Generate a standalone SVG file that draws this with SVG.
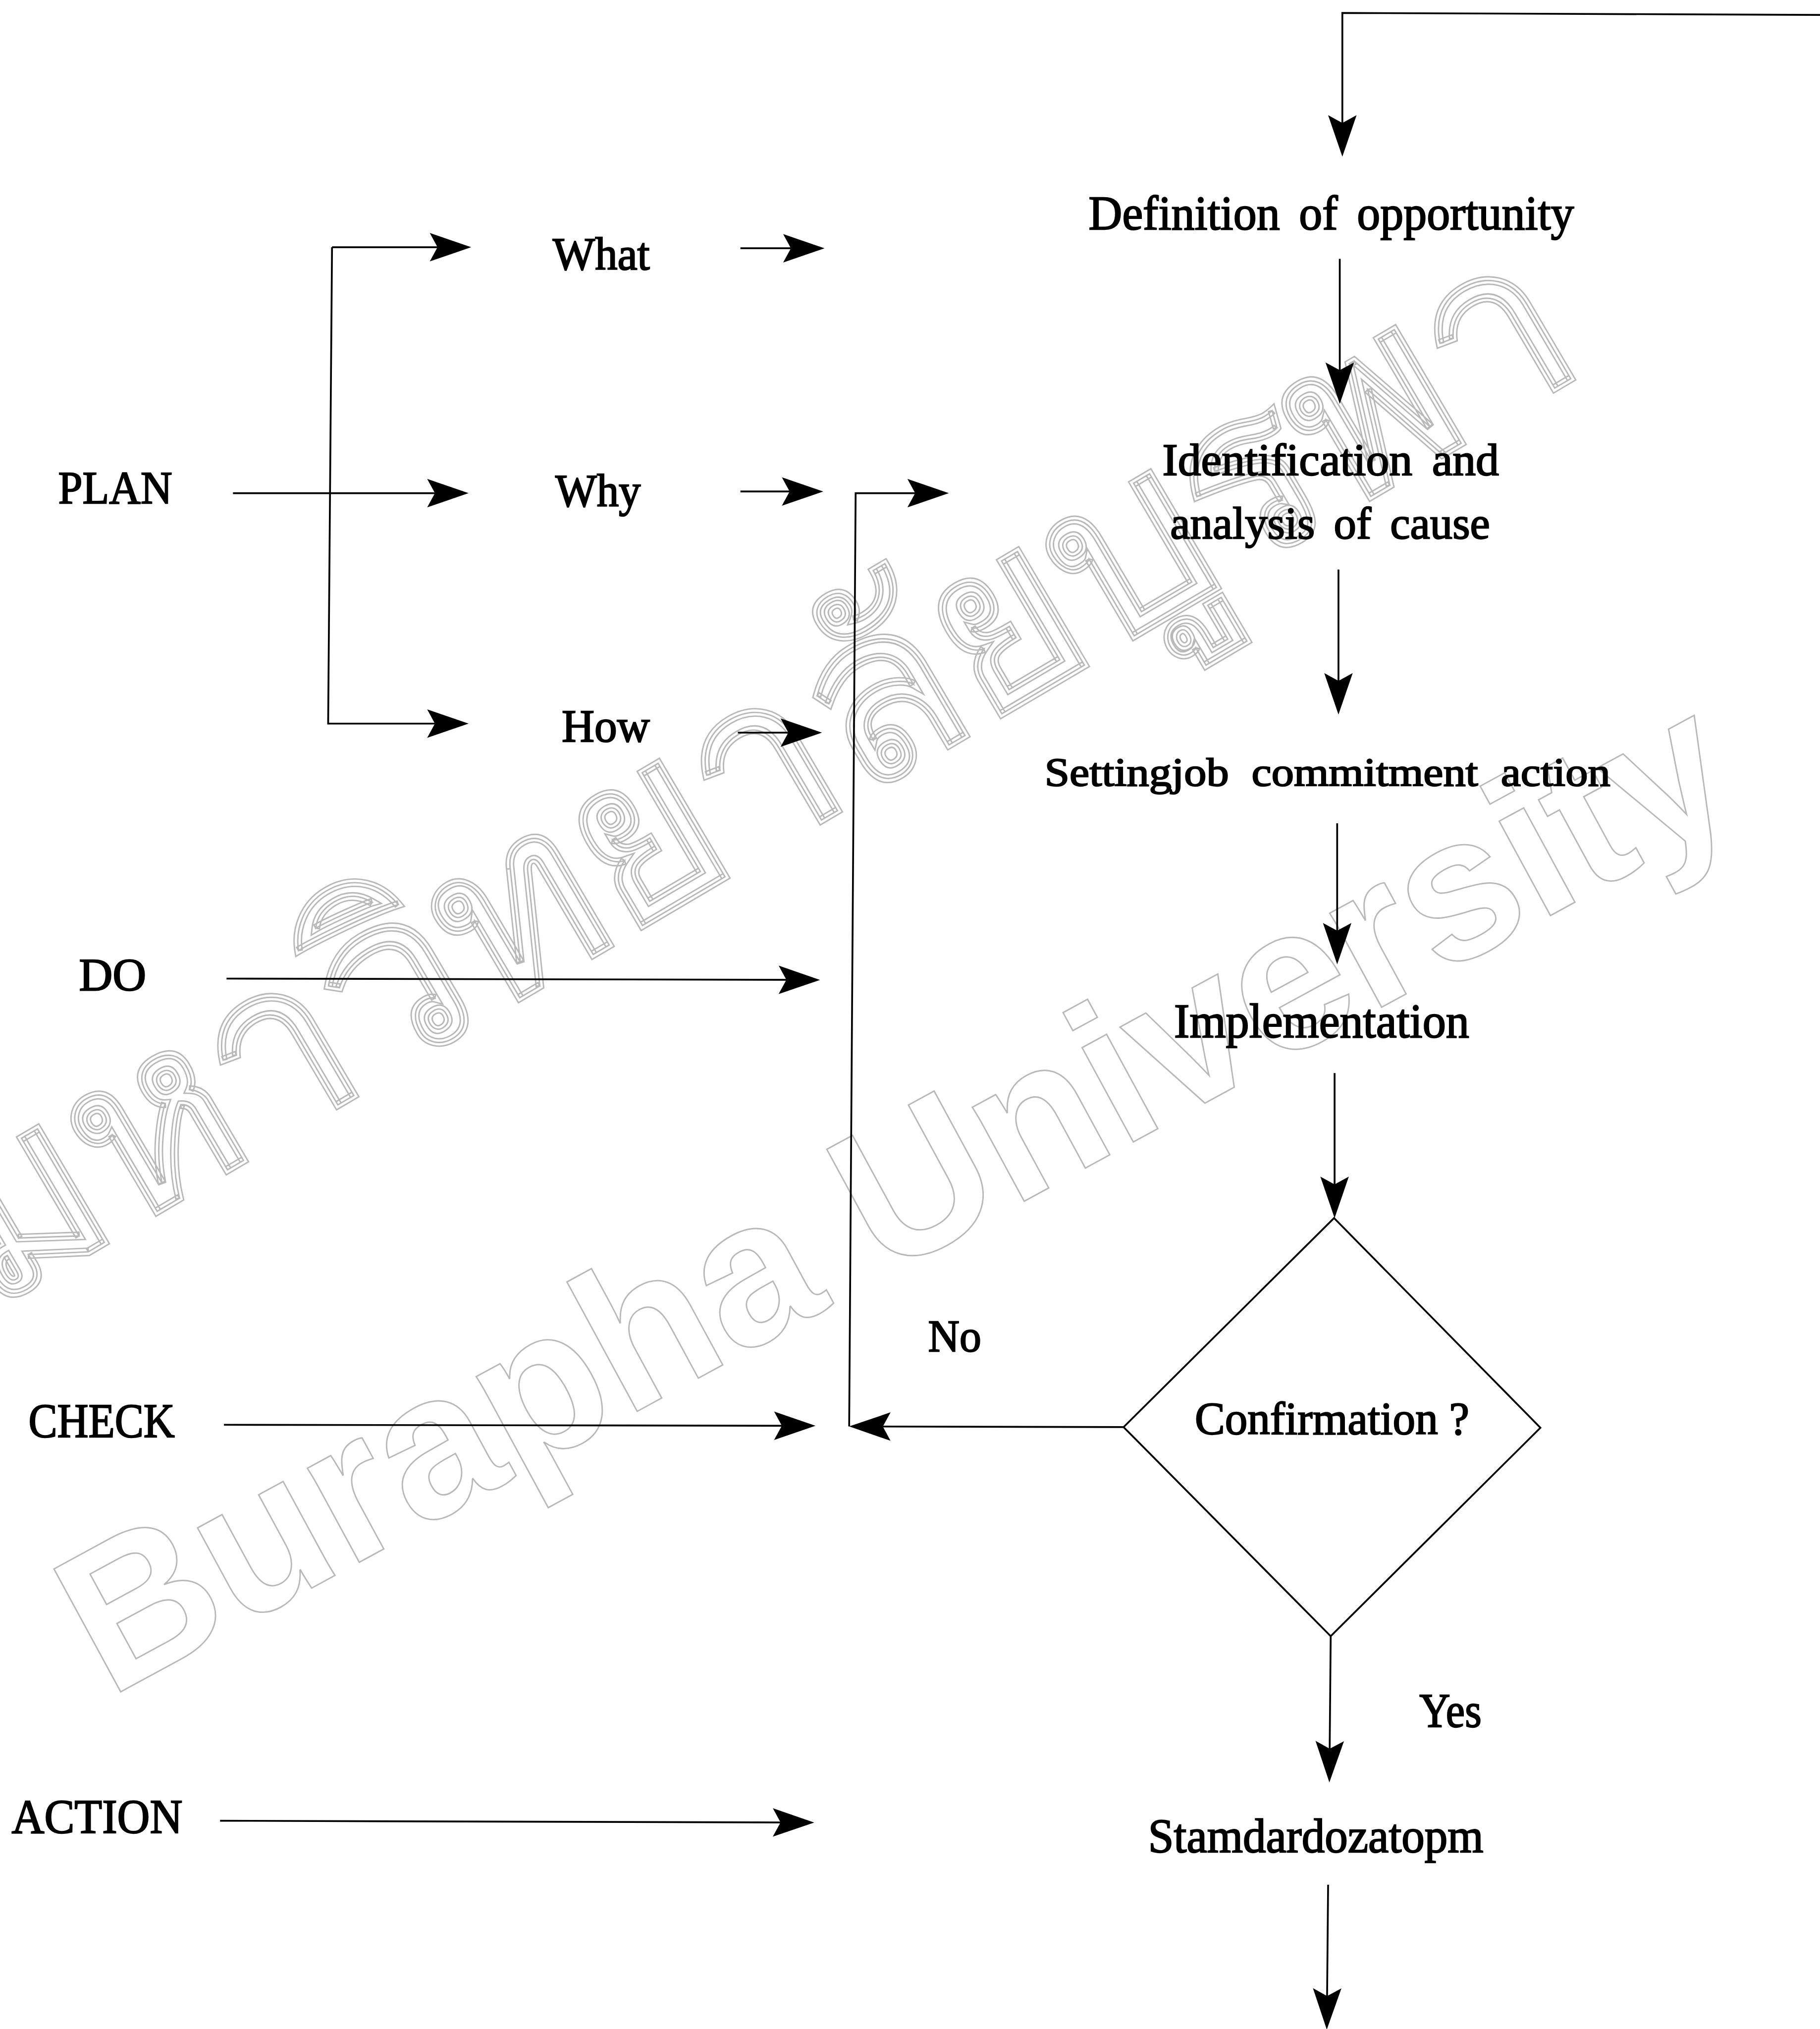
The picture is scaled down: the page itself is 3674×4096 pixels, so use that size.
<svg xmlns="http://www.w3.org/2000/svg" width="3674" height="4096" viewBox="0 0 3674 4096">
<defs>
<marker id="ah" markerUnits="userSpaceOnUse" markerWidth="40" markerHeight="30" viewBox="-36 -15 40 30" refX="-3" refY="0" orient="auto" overflow="visible">
<path d="M0,0 L-32,-11 L-26,0 L-32,11 Z" fill="#000"/>
</marker>
</defs>
<style>
.t{font-family:"Liberation Serif","Times New Roman",serif;fill:#000;stroke:#000;stroke-width:0.9}
.c{fill:none;stroke:#000;stroke-width:1.4}
.a{marker-end:url(#ah)}
.wm{font-family:"Liberation Sans",Arial,sans-serif;font-weight:bold;fill:none;stroke:#b8b8b8;stroke-width:1.1}
</style>
<rect width="3674" height="4096" fill="#fff"/>
<g transform="scale(2.6131)">
<g id="watermark">
<text class="wm" font-size="157" transform="translate(84,1312) rotate(-28.5)">Burapha University</text>
<text class="wm" font-size="183" transform="translate(-8,1012) rotate(-30.5)">มหาวิทยาลัยบูรพา</text>
</g>
<g id="connectors">
<path class="c a" d="M1406,11.5 L1037,10 L1037,118"/>
<path class="c a" d="M1035,200 L1035,309"/>
<path class="c a" d="M1034,440 L1034,549"/>
<path class="c a" d="M1033,636 L1033,742"/>
<path class="c a" d="M1031,829 L1031,938"/>
<path class="c a" d="M1028,1264 L1027,1374"/>
<path class="c a" d="M1026,1456 L1025,1565"/>
<path class="c a" d="M868,1102.5 L659,1102"/>
<path class="c a" d="M656,1102 L661,381 L730,381"/>
<path class="c a" d="M180,381 L359,381"/>
<path class="c a" d="M256.5,191 L361,191"/>
<path class="c a" d="M256.5,191 L253.5,559 L359,559"/>
<path class="c a" d="M572,191.8 L634,191.8"/>
<path class="c a" d="M572,379.7 L633,379.7"/>
<path class="c a" d="M570,566 L632,566"/>
<path class="c a" d="M175,756 L630.5,757"/>
<path class="c a" d="M173,1100.7 L627,1101.5"/>
<path class="c a" d="M170,1406.6 L626,1408"/>
</g>
<g id="plan"><text class="t" x="45" y="389" font-size="36" textLength="88" lengthAdjust="spacingAndGlyphs">PLAN</text></g>
<g id="what"><text class="t" x="427" y="208" font-size="36" textLength="75" lengthAdjust="spacingAndGlyphs">What</text></g>
<g id="why"><text class="t" x="429" y="391" font-size="36" textLength="66" lengthAdjust="spacingAndGlyphs">Why</text></g>
<g id="how"><text class="t" x="434" y="573" font-size="36" textLength="68" lengthAdjust="spacingAndGlyphs">How</text></g>
<g id="do"><text class="t" x="61" y="765" font-size="36" textLength="52" lengthAdjust="spacingAndGlyphs">DO</text></g>
<g id="check"><text class="t" x="22" y="1110" font-size="37" textLength="113" lengthAdjust="spacingAndGlyphs">CHECK</text></g>
<g id="action"><text class="t" x="9" y="1416" font-size="37" textLength="132" lengthAdjust="spacingAndGlyphs">ACTION</text></g>
<g id="definition"><text class="t" x="841" y="177" font-size="37" word-spacing="6" textLength="375" lengthAdjust="spacingAndGlyphs">Definition of opportunity</text></g>
<g id="identification">
<text class="t" x="898" y="367" font-size="35" word-spacing="6" textLength="260" lengthAdjust="spacingAndGlyphs">Identification and</text>
<text class="t" x="904" y="416" font-size="35" word-spacing="6" textLength="247" lengthAdjust="spacingAndGlyphs">analysis of cause</text>
</g>
<g id="setting"><text class="t" x="807" y="607" font-size="31" word-spacing="8" textLength="437" lengthAdjust="spacingAndGlyphs">Settingjob commitment action</text></g>
<g id="implementation"><text class="t" x="907" y="801.5" font-size="37" textLength="228" lengthAdjust="spacingAndGlyphs">Implementation</text></g>
<g id="confirmation">
<polygon points="1030.6,941 1190,1103 1028,1264 868,1102.5" fill="none" stroke="#000" stroke-width="1.4"/>
<text class="t" x="923" y="1108" font-size="36" textLength="212" lengthAdjust="spacingAndGlyphs">Confirmation ?</text>
</g>
<g id="no-label"><text class="t" x="717" y="1044" font-size="35" textLength="41" lengthAdjust="spacingAndGlyphs">No</text></g>
<g id="yes-label"><text class="t" x="1096.5" y="1334" font-size="37" textLength="48" lengthAdjust="spacingAndGlyphs">Yes</text></g>
<g id="standard"><text class="t" x="887" y="1431" font-size="37" textLength="259" lengthAdjust="spacingAndGlyphs">Stamdardozatopm</text></g>
</g>
</svg>
